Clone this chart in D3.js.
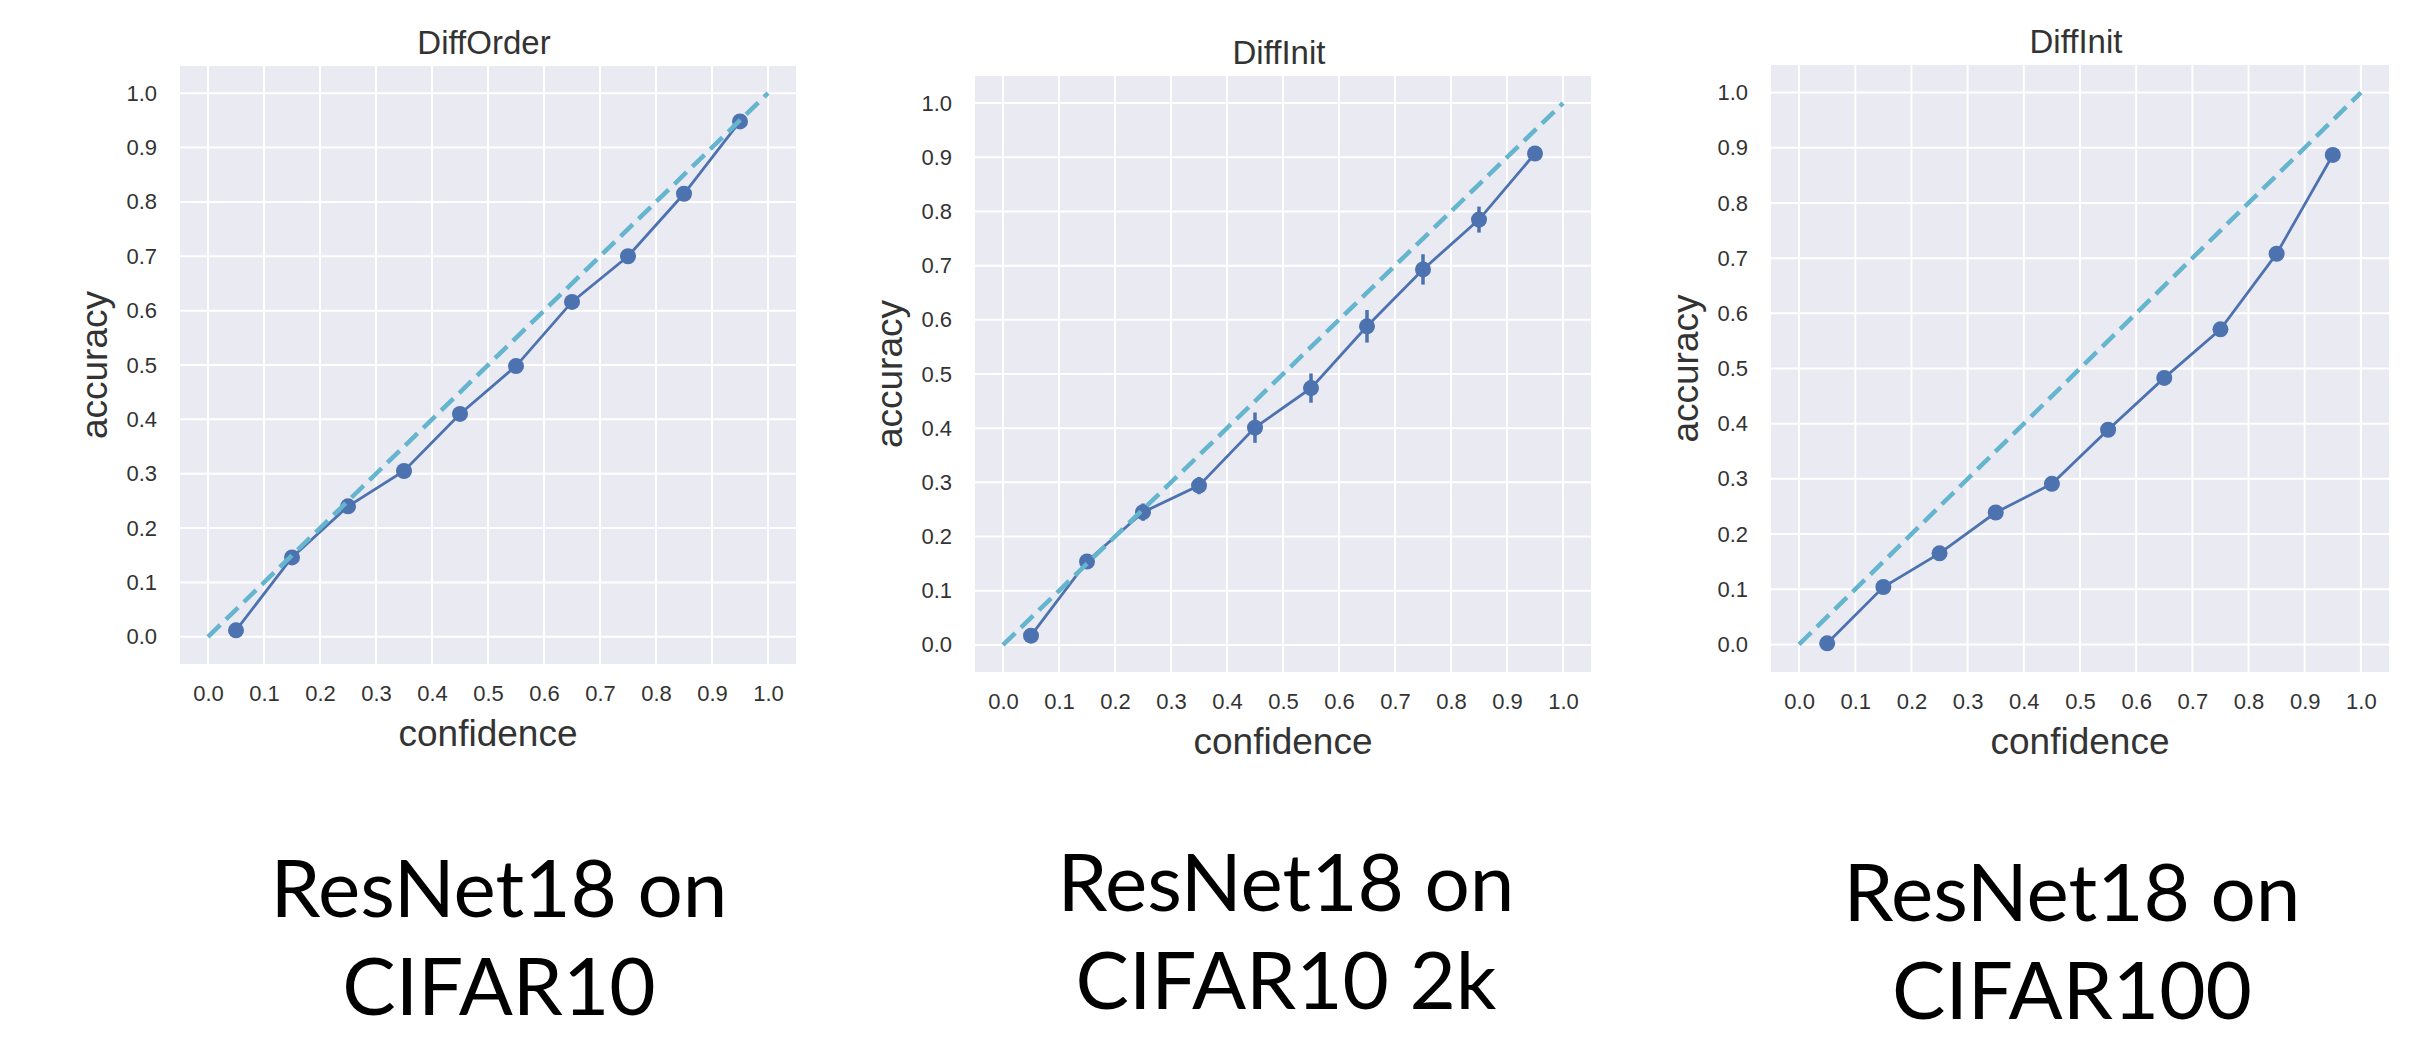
<!DOCTYPE html>
<html>
<head>
<meta charset="utf-8">
<script src="https://cdn.jsdelivr.net/npm/d3@7"></script>
<style>
  html, body { margin: 0; padding: 0; background: #ffffff; }
  svg { display: block; }
</style>
</head>
<body>
<svg id="chart" width="2431" height="1038"></svg>
<script>
// ---------------- data ----------------
const confidenceBins = [0.05, 0.15, 0.25, 0.35, 0.45, 0.55, 0.65, 0.75, 0.85, 0.95];
const tickValues = [0.0, 0.1, 0.2, 0.3, 0.4, 0.5, 0.6, 0.7, 0.8, 0.9, 1.0];
const titles = ["DiffOrder", "DiffInit", "DiffInit"];
const captionLine1 = ["ResNet18 on", "ResNet18 on", "ResNet18 on"];
const captionLine2 = ["CIFAR10", "CIFAR10 2k", "CIFAR100"];
const xLabel = "confidence";
const yLabel = "accuracy";
const accDiffOrder = [0.012, 0.146, 0.240, 0.305, 0.410, 0.498, 0.616, 0.700, 0.815, 0.948];
const accDiffInit2k = [0.017, 0.154, 0.245, 0.294, 0.401, 0.474, 0.588, 0.693, 0.785, 0.907];
const errDiffInit2k = [0.005, 0.009, 0.016, 0.016, 0.028, 0.027, 0.030, 0.028, 0.024, 0.008];
const accDiffInit100 = [0.002, 0.104, 0.165, 0.239, 0.291, 0.389, 0.483, 0.571, 0.708, 0.887];
const diagonal = [0, 1];

const seriesList = [
  { acc: accDiffOrder, err: null },
  { acc: accDiffInit2k, err: errDiffInit2k },
  { acc: accDiffInit100, err: null }
];

// ---------------- layout ----------------
const panels = [
  { left: 180, right: 796, top: 66, bottom: 664, capX: 499, capY: 917 },
  { left: 975, right: 1591, top: 76, bottom: 672, capX: 1286, capY: 911 },
  { left: 1771, right: 2389, top: 65, bottom: 672, capX: 2072, capY: 921 }
];

const BG = "#EAEAF2";
const LINE = "#4C72B0";
const DIAG = "#64B5CD";
const TEXT = "#333333";
const FONT = "'Liberation Sans', Arial, Helvetica, sans-serif";

const svg = d3.select("#chart");

panels.forEach((p, i) => {
  const s = seriesList[i];
  const x = d3.scaleLinear().domain([-0.05, 1.05]).range([p.left, p.right]);
  const y = d3.scaleLinear().domain([-0.05, 1.05]).range([p.bottom, p.top]);
  const g = svg.append("g");

  // background
  g.append("rect")
    .attr("x", p.left).attr("y", p.top)
    .attr("width", p.right - p.left).attr("height", p.bottom - p.top)
    .attr("fill", BG);

  // grid
  g.append("g").selectAll("line").data(tickValues).join("line")
    .attr("x1", d => x(d)).attr("x2", d => x(d))
    .attr("y1", p.top).attr("y2", p.bottom)
    .attr("stroke", "#ffffff").attr("stroke-width", 2);
  g.append("g").selectAll("line").data(tickValues).join("line")
    .attr("y1", d => y(d)).attr("y2", d => y(d))
    .attr("x1", p.left).attr("x2", p.right)
    .attr("stroke", "#ffffff").attr("stroke-width", 2);

  // axes (tick labels only)
  const xAxis = d3.axisBottom(x).tickValues(tickValues).tickFormat(d3.format(".1f")).tickSize(0).tickPadding(21);
  const gx = g.append("g").attr("transform", `translate(0,${p.bottom})`).call(xAxis);
  gx.select(".domain").remove();
  gx.selectAll("text").attr("fill", TEXT).style("font-family", FONT).style("font-size", "22px");

  const yAxis = d3.axisLeft(y).tickValues(tickValues).tickFormat(d3.format(".1f")).tickSize(0).tickPadding(23);
  const gy = g.append("g").attr("transform", `translate(${p.left},0)`).call(yAxis);
  gy.select(".domain").remove();
  gy.selectAll("text").attr("fill", TEXT).style("font-family", FONT).style("font-size", "22px");

  // axis titles
  g.append("text")
    .attr("x", (p.left + p.right) / 2).attr("y", p.bottom + 82)
    .attr("text-anchor", "middle")
    .attr("fill", TEXT).style("font-family", FONT).style("font-size", "37px")
    .text(xLabel);
  g.append("text")
    .attr("transform", `translate(${p.left - 73},${(p.top + p.bottom) / 2}) rotate(-90)`)
    .attr("text-anchor", "middle")
    .attr("fill", TEXT).style("font-family", FONT).style("font-size", "37px")
    .text(yLabel);

  // title
  g.append("text")
    .attr("x", (p.left + p.right) / 2 - 4).attr("y", p.top - 12)
    .attr("text-anchor", "middle")
    .attr("fill", TEXT).style("font-family", FONT).style("font-size", "33px")
    .text(titles[i]);

  // data line
  const pts = confidenceBins.map((c, k) => ({ c: c, a: s.acc[k], e: s.err ? s.err[k] : 0 }));
  const line = d3.line().x(d => x(d.c)).y(d => y(d.a));
  g.append("path").datum(pts)
    .attr("d", line)
    .attr("fill", "none").attr("stroke", LINE).attr("stroke-width", 2.8);

  // error bars
  if (s.err) {
    g.append("g").selectAll("line").data(pts).join("line")
      .attr("x1", d => x(d.c)).attr("x2", d => x(d.c))
      .attr("y1", d => y(d.a - d.e)).attr("y2", d => y(d.a + d.e))
      .attr("stroke", LINE).attr("stroke-width", 3.5);
  }

  // markers
  g.append("g").selectAll("circle").data(pts).join("circle")
    .attr("cx", d => x(d.c)).attr("cy", d => y(d.a))
    .attr("r", 8).attr("fill", LINE);

  // diagonal reference
  g.append("line")
    .attr("x1", x(diagonal[0])).attr("y1", y(diagonal[0]))
    .attr("x2", x(diagonal[1])).attr("y2", y(diagonal[1]))
    .attr("stroke", DIAG).attr("stroke-width", 4.5)
    .attr("stroke-dasharray", "17,8");

  // caption
  const cap = svg.append("text")
    .attr("text-anchor", "middle")
    .attr("fill", "#000000")
    .style("font-family", "Lato, 'Open Sans', sans-serif")
    .style("font-size", "80px");
  cap.append("tspan").attr("x", p.capX).attr("y", p.capY).text(captionLine1[i]);
  cap.append("tspan").attr("x", p.capX).attr("y", p.capY + 98).text(captionLine2[i]);
});
</script>
</body>
</html>
